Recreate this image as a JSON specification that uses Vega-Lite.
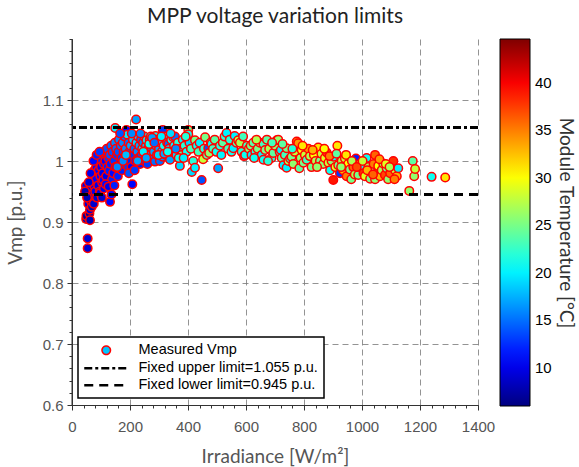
{
  "$schema": "https://vega.github.io/schema/vega-lite/v6.json",
  "width": 406,
  "height": 366,
  "autosize": "none",
  "padding": {"left": 72, "top": 39, "right": 101, "bottom": 62},
  "background": "white",
  "title": {"text": "MPP voltage variation limits", "font": "Lato", "fontSize": 21, "fontWeight": "normal", "color": "#222", "anchor": "middle", "offset": 12},
  "config": {"view": {"stroke": null}},
  "resolve": {"axis": {"x": "independent", "y": "independent"}},
  "layer": [
    {
      "data": {"values": [
        {"irr":48,"vmp":0.959,"T":10},{"irr":49,"vmp":0.905,"T":8},{"irr":50,"vmp":0.91,"T":7},{"irr":54,"vmp":0.873,"T":9},{"irr":54,"vmp":0.857,"T":9},
        {"irr":56,"vmp":0.93,"T":9},{"irr":58,"vmp":0.946,"T":10},{"irr":60,"vmp":0.914,"T":7},{"irr":62,"vmp":0.903,"T":8},{"irr":62,"vmp":0.92,"T":9},
        {"irr":65,"vmp":0.935,"T":9},{"irr":66,"vmp":0.958,"T":10},{"irr":68,"vmp":0.925,"T":8},{"irr":70,"vmp":0.945,"T":10},{"irr":72,"vmp":0.974,"T":11},
        {"irr":75,"vmp":0.93,"T":9},{"irr":76,"vmp":0.96,"T":10},{"irr":78,"vmp":0.985,"T":11},{"irr":80,"vmp":0.95,"T":10},{"irr":82,"vmp":0.97,"T":11},
        {"irr":84,"vmp":0.99,"T":11},{"irr":86,"vmp":0.94,"T":9},{"irr":88,"vmp":1.0,"T":12},{"irr":90,"vmp":0.96,"T":10},{"irr":92,"vmp":0.985,"T":11},
        {"irr":94,"vmp":1.005,"T":12},{"irr":96,"vmp":0.95,"T":10},{"irr":98,"vmp":0.975,"T":11},{"irr":100,"vmp":1.002,"T":12},{"irr":100,"vmp":0.99,"T":10},
        {"irr":102,"vmp":1.012,"T":13},{"irr":104,"vmp":0.965,"T":11},{"irr":106,"vmp":0.98,"T":10},{"irr":108,"vmp":0.969,"T":11},{"irr":110,"vmp":0.995,"T":12},
        {"irr":112,"vmp":1.015,"T":13},{"irr":115,"vmp":1.0,"T":11},{"irr":118,"vmp":0.975,"T":10},{"irr":120,"vmp":1.02,"T":14},{"irr":122,"vmp":0.99,"T":12},
        {"irr":125,"vmp":1.005,"T":13},{"irr":128,"vmp":0.984,"T":12},{"irr":130,"vmp":1.01,"T":14},{"irr":131,"vmp":0.933,"T":11},{"irr":133,"vmp":0.995,"T":12},
        {"irr":135,"vmp":1.025,"T":15},{"irr":138,"vmp":0.97,"T":12},{"irr":140,"vmp":1.015,"T":14},{"irr":142,"vmp":0.98,"T":11},{"irr":145,"vmp":1.0,"T":13},
        {"irr":148,"vmp":1.03,"T":16},{"irr":149,"vmp":1.054,"T":20},{"irr":150,"vmp":0.99,"T":12},{"irr":152,"vmp":1.02,"T":15},{"irr":155,"vmp":1.01,"T":13},
        {"irr":158,"vmp":0.975,"T":12},{"irr":160,"vmp":1.015,"T":14},{"irr":162,"vmp":1.035,"T":16},{"irr":165,"vmp":0.995,"T":12},{"irr":168,"vmp":1.025,"T":15},
        {"irr":170,"vmp":1.005,"T":13},{"irr":172,"vmp":0.985,"T":12},{"irr":175,"vmp":1.03,"T":16},{"irr":178,"vmp":1.015,"T":14},{"irr":180,"vmp":0.995,"T":13},
        {"irr":182,"vmp":1.04,"T":15},{"irr":185,"vmp":1.02,"T":16},{"irr":188,"vmp":1.051,"T":11},{"irr":190,"vmp":1.005,"T":12},{"irr":191,"vmp":1.043,"T":20},
        {"irr":193,"vmp":0.99,"T":13},{"irr":195,"vmp":1.03,"T":15},{"irr":198,"vmp":1.015,"T":14},{"irr":200,"vmp":1.0,"T":12},{"irr":202,"vmp":1.025,"T":17},
        {"irr":205,"vmp":0.99,"T":11},{"irr":208,"vmp":0.962,"T":11},{"irr":210,"vmp":1.035,"T":18},{"irr":212,"vmp":1.01,"T":13},{"irr":215,"vmp":1.02,"T":15},
        {"irr":218,"vmp":1.0,"T":12},{"irr":221,"vmp":1.068,"T":17},{"irr":222,"vmp":1.03,"T":19},{"irr":225,"vmp":1.015,"T":16},{"irr":228,"vmp":1.04,"T":18},
        {"irr":230,"vmp":1.005,"T":13},{"irr":232,"vmp":1.025,"T":17},{"irr":235,"vmp":0.995,"T":12},{"irr":238,"vmp":1.035,"T":15},{"irr":240,"vmp":1.01,"T":14},
        {"irr":242,"vmp":1.02,"T":19},{"irr":245,"vmp":1.03,"T":16},{"irr":248,"vmp":1.0,"T":13},{"irr":250,"vmp":1.04,"T":20},{"irr":252,"vmp":1.015,"T":15},
        {"irr":255,"vmp":1.025,"T":18},{"irr":257,"vmp":1.034,"T":20},{"irr":260,"vmp":0.995,"T":13},{"irr":262,"vmp":1.02,"T":17},{"irr":265,"vmp":1.01,"T":16},
        {"irr":268,"vmp":1.035,"T":18},{"irr":270,"vmp":1.025,"T":14},{"irr":272,"vmp":1.04,"T":22},{"irr":275,"vmp":1.021,"T":16},{"irr":278,"vmp":1.03,"T":19},
        {"irr":280,"vmp":1.005,"T":15},{"irr":282,"vmp":1.015,"T":17},{"irr":286,"vmp":0.999,"T":15},{"irr":288,"vmp":1.041,"T":21},{"irr":290,"vmp":1.025,"T":18},
        {"irr":293,"vmp":1.01,"T":16},{"irr":296,"vmp":1.035,"T":20},{"irr":300,"vmp":1.02,"T":17},{"irr":303,"vmp":1.0,"T":15},{"irr":306,"vmp":1.03,"T":19},
        {"irr":310,"vmp":1.015,"T":18},{"irr":313,"vmp":1.007,"T":16},{"irr":313,"vmp":1.051,"T":13},{"irr":316,"vmp":1.025,"T":21},{"irr":320,"vmp":1.04,"T":20},
        {"irr":324,"vmp":1.01,"T":15},{"irr":328,"vmp":1.03,"T":18},{"irr":332,"vmp":1.028,"T":15},{"irr":335,"vmp":1.02,"T":19},{"irr":338,"vmp":1.002,"T":17},
        {"irr":342,"vmp":1.035,"T":21},{"irr":345,"vmp":1.015,"T":18},{"irr":349,"vmp":1.039,"T":19},{"irr":352,"vmp":1.025,"T":20},{"irr":355,"vmp":1.04,"T":15},
        {"irr":360,"vmp":1.01,"T":19},{"irr":365,"vmp":1.03,"T":22},{"irr":372,"vmp":0.992,"T":19},{"irr":375,"vmp":1.02,"T":21},{"irr":378,"vmp":1.01,"T":24},
        {"irr":382,"vmp":1.035,"T":20},{"irr":388,"vmp":1.025,"T":22},{"irr":395,"vmp":1.015,"T":21},{"irr":401,"vmp":1.051,"T":25},{"irr":401,"vmp":1.044,"T":21},
        {"irr":405,"vmp":1.03,"T":19},{"irr":410,"vmp":1.02,"T":23},{"irr":413,"vmp":0.982,"T":19},{"irr":418,"vmp":1.0,"T":22},{"irr":424,"vmp":0.989,"T":20},
        {"irr":424,"vmp":1.034,"T":25},{"irr":430,"vmp":1.025,"T":21},{"irr":436,"vmp":1.015,"T":23},{"irr":440,"vmp":1.03,"T":20},{"irr":447,"vmp":0.969,"T":14},
        {"irr":452,"vmp":1.003,"T":28},{"irr":455,"vmp":1.02,"T":22},{"irr":459,"vmp":1.039,"T":25},{"irr":465,"vmp":1.01,"T":24},{"irr":470,"vmp":1.021,"T":14},
        {"irr":473,"vmp":1.013,"T":26},{"irr":478,"vmp":1.03,"T":22},{"irr":481,"vmp":1.028,"T":21},{"irr":486,"vmp":1.02,"T":23},{"irr":492,"vmp":1.035,"T":24},
        {"irr":498,"vmp":1.015,"T":21},{"irr":504,"vmp":0.988,"T":17},{"irr":510,"vmp":1.025,"T":22},{"irr":515,"vmp":1.01,"T":20},{"irr":520,"vmp":1.03,"T":24},
        {"irr":526,"vmp":1.04,"T":22},{"irr":533,"vmp":1.046,"T":20},{"irr":538,"vmp":1.02,"T":23},{"irr":544,"vmp":1.035,"T":22},{"irr":550,"vmp":1.015,"T":21},
        {"irr":556,"vmp":1.021,"T":20},{"irr":561,"vmp":1.041,"T":20},{"irr":567,"vmp":1.03,"T":24},{"irr":573,"vmp":1.034,"T":28},{"irr":579,"vmp":1.03,"T":27},
        {"irr":585,"vmp":1.015,"T":22},{"irr":593,"vmp":1.008,"T":20},{"irr":597,"vmp":1.01,"T":21},{"irr":603,"vmp":1.025,"T":23},{"irr":610,"vmp":1.02,"T":26},
        {"irr":616,"vmp":1.025,"T":25},{"irr":619,"vmp":1.01,"T":20},{"irr":625,"vmp":1.03,"T":24},{"irr":632,"vmp":1.015,"T":22},{"irr":640,"vmp":1.02,"T":25},
        {"irr":648,"vmp":1.03,"T":26},{"irr":654,"vmp":1.01,"T":20},{"irr":660,"vmp":1.028,"T":23},{"irr":660,"vmp":1.002,"T":21},{"irr":666,"vmp":1.018,"T":25},
        {"irr":672,"vmp":1.035,"T":24},{"irr":680,"vmp":1.02,"T":27},{"irr":688,"vmp":1.005,"T":22},{"irr":694,"vmp":1.013,"T":24},{"irr":700,"vmp":1.025,"T":26},
        {"irr":706,"vmp":1.034,"T":25},{"irr":711,"vmp":1.035,"T":26},{"irr":716,"vmp":1.015,"T":22},{"irr":720,"vmp":1.018,"T":20},{"irr":723,"vmp":1.005,"T":24},
        {"irr":729,"vmp":0.993,"T":20},{"irr":734,"vmp":1.01,"T":23},{"irr":740,"vmp":0.989,"T":20},{"irr":740,"vmp":1.021,"T":25},{"irr":746,"vmp":1.0,"T":27},
        {"irr":752,"vmp":1.004,"T":22},{"irr":757,"vmp":1.007,"T":25},{"irr":763,"vmp":0.995,"T":26},{"irr":768,"vmp":1.015,"T":28},{"irr":775,"vmp":1.032,"T":35},
        {"irr":780,"vmp":1.029,"T":34},{"irr":784,"vmp":0.988,"T":24},{"irr":788,"vmp":1.005,"T":26},{"irr":792,"vmp":1.018,"T":30},{"irr":798,"vmp":0.997,"T":25},
        {"irr":803,"vmp":1.01,"T":28},{"irr":809,"vmp":1.002,"T":23},{"irr":815,"vmp":1.02,"T":34},{"irr":820,"vmp":1.008,"T":27},{"irr":826,"vmp":0.99,"T":25},
        {"irr":834,"vmp":1.01,"T":30},{"irr":840,"vmp":1.0,"T":27},{"irr":849,"vmp":1.022,"T":31},{"irr":855,"vmp":1.0,"T":25},{"irr":860,"vmp":1.012,"T":28},
        {"irr":866,"vmp":0.995,"T":26},{"irr":872,"vmp":1.005,"T":29},{"irr":878,"vmp":1.014,"T":37},{"irr":884,"vmp":0.997,"T":28},{"irr":890,"vmp":0.985,"T":21},
        {"irr":895,"vmp":1.0,"T":26},{"irr":901,"vmp":0.969,"T":39},{"irr":902,"vmp":1.007,"T":21},{"irr":908,"vmp":0.99,"T":29},{"irr":915,"vmp":1.025,"T":31},
        {"irr":918,"vmp":0.993,"T":25},{"irr":924,"vmp":0.98,"T":13},{"irr":930,"vmp":1.0,"T":27},{"irr":935,"vmp":0.985,"T":33},{"irr":941,"vmp":1.004,"T":28},
        {"irr":947,"vmp":0.975,"T":35},{"irr":952,"vmp":0.995,"T":30},{"irr":958,"vmp":0.986,"T":25},{"irr":963,"vmp":0.97,"T":25},{"irr":970,"vmp":0.99,"T":36},
        {"irr":975,"vmp":0.978,"T":27},{"irr":979,"vmp":1.004,"T":12},{"irr":987,"vmp":0.977,"T":25},{"irr":993,"vmp":0.995,"T":34},{"irr":999,"vmp":0.992,"T":21},
        {"irr":1005,"vmp":0.98,"T":38},{"irr":1010,"vmp":0.975,"T":29},{"irr":1016,"vmp":1.005,"T":21},{"irr":1022,"vmp":0.99,"T":27},{"irr":1028,"vmp":0.971,"T":25},
        {"irr":1034,"vmp":0.985,"T":26},{"irr":1040,"vmp":0.995,"T":35},{"irr":1045,"vmp":1.01,"T":36},{"irr":1045,"vmp":0.97,"T":26},{"irr":1050,"vmp":0.98,"T":38},
        {"irr":1056,"vmp":0.992,"T":30},{"irr":1062,"vmp":0.975,"T":33},{"irr":1068,"vmp":0.985,"T":27},{"irr":1073,"vmp":0.996,"T":26},{"irr":1079,"vmp":0.977,"T":37},
        {"irr":1085,"vmp":0.988,"T":25},{"irr":1090,"vmp":0.97,"T":26},{"irr":1097,"vmp":0.98,"T":36},{"irr":1102,"vmp":0.992,"T":38},{"irr":1108,"vmp":1.0,"T":38},
        {"irr":1114,"vmp":0.985,"T":28},{"irr":1120,"vmp":0.975,"T":33},{"irr":1125,"vmp":0.988,"T":20},{"irr":1163,"vmp":0.951,"T":26},{"irr":1175,"vmp":1.0,"T":24},
        {"irr":1180,"vmp":0.975,"T":26},{"irr":1183,"vmp":0.987,"T":28},{"irr":1240,"vmp":0.974,"T":21},{"irr":1287,"vmp":0.973,"T":31},
        {"irr":590,"vmp":1.04,"T":23},{"irr":628,"vmp":1.005,"T":21},{"irr":636,"vmp":1.035,"T":27},{"irr":676,"vmp":1.0,"T":22},{"irr":690,"vmp":1.03,"T":23},
        {"irr":726,"vmp":1.028,"T":24},{"irr":760,"vmp":1.02,"T":22},{"irr":795,"vmp":1.025,"T":31},{"irr":830,"vmp":1.018,"T":33},{"irr":845,"vmp":0.99,"T":26},
        {"irr":870,"vmp":1.02,"T":30},{"irr":888,"vmp":1.008,"T":35},{"irr":912,"vmp":1.012,"T":24},{"irr":928,"vmp":0.99,"T":26},{"irr":945,"vmp":1.01,"T":31},
        {"irr":965,"vmp":1.0,"T":27},{"irr":982,"vmp":0.99,"T":37},{"irr":1002,"vmp":1.0,"T":28},{"irr":1018,"vmp":0.985,"T":33},{"irr":1038,"vmp":0.978,"T":36},
        {"irr":1060,"vmp":1.003,"T":34},{"irr":1082,"vmp":0.995,"T":29},{"irr":1095,"vmp":0.99,"T":27},{"irr":1112,"vmp":0.97,"T":35},
        {"irr":156,"vmp":0.99,"T":16},{"irr":166,"vmp":1.045,"T":14},{"irr":176,"vmp":1.0,"T":16},{"irr":186,"vmp":1.01,"T":18},{"irr":196,"vmp":0.98,"T":14},
        {"irr":206,"vmp":1.045,"T":16},{"irr":216,"vmp":0.985,"T":13},{"irr":226,"vmp":1.0,"T":17},{"irr":236,"vmp":1.045,"T":16},{"irr":246,"vmp":1.015,"T":20},
        {"irr":256,"vmp":1.005,"T":17},{"irr":266,"vmp":1.028,"T":21},{"irr":276,"vmp":1.038,"T":17},{"irr":284,"vmp":1.03,"T":15},{"irr":298,"vmp":1.01,"T":19},
        {"irr":308,"vmp":1.04,"T":20},{"irr":318,"vmp":1.012,"T":17},{"irr":330,"vmp":1.015,"T":21},{"irr":340,"vmp":1.045,"T":19},{"irr":358,"vmp":1.02,"T":16},
        {"irr":368,"vmp":1.005,"T":21},{"irr":385,"vmp":1.005,"T":20},{"irr":392,"vmp":1.04,"T":22},
        {"irr":97,"vmp":0.947,"T":10},{"irr":103,"vmp":0.94,"T":9},{"irr":110,"vmp":0.955,"T":10},{"irr":116,"vmp":0.962,"T":11},{"irr":126,"vmp":0.958,"T":10},
        {"irr":136,"vmp":0.945,"T":11},{"irr":146,"vmp":0.96,"T":12},{"irr":45,"vmp":0.95,"T":8},{"irr":52,"vmp":0.94,"T":8},{"irr":58,"vmp":0.965,"T":9},
        {"irr":64,"vmp":0.98,"T":10},{"irr":74,"vmp":1.0,"T":11},{"irr":85,"vmp":1.01,"T":12},{"irr":95,"vmp":1.015,"T":13}
      ]},
      "mark": {"type": "circle", "size": 72, "opacity": 1, "stroke": "#ff0000", "strokeWidth": 1.5},
      "encoding": {
        "x": {"field": "irr", "type": "quantitative", "scale": {"domain": [0, 1400], "nice": false, "zero": false},
          "axis": {"values": [0,200,400,600,800,1000,1200,1400], "format": "d", "title": "Irradiance [W/m²]", "grid": true, "gridDash": [6,4], "gridColor": "#777", "gridWidth": 0.8,
            "domainColor": "#333", "tickColor": "#333", "tickSize": 5, "labelFont": "Liberation Sans", "labelFontSize": 15, "labelColor": "#555", "labelPadding": 9,
            "labelFlush": false, "titleFont": "Lato", "titleFontSize": 19, "titleFontWeight": "normal", "titleColor": "#555", "titlePadding": 13, "orient": "bottom"}},
        "y": {"field": "vmp", "type": "quantitative", "scale": {"domain": [0.6, 1.2], "nice": false, "zero": false},
          "axis": {"values": [0.6,0.7,0.8,0.9,1,1.1], "format": "~g", "title": "Vmp [p.u.]", "grid": true, "gridDash": [6,4], "gridColor": "#777", "gridWidth": 0.8,
            "domainColor": "#333", "tickColor": "#333", "tickSize": 5, "labelFont": "Liberation Sans", "labelFontSize": 15, "labelColor": "#555", "labelPadding": 4,
            "titleFont": "Lato", "titleFontSize": 19, "titleFontWeight": "normal", "titleColor": "#555", "titlePadding": 17, "orient": "left"}},
        "color": {"field": "T", "type": "quantitative",
          "scale": {"domain": [6, 10.825, 20.475, 30.125, 39.775, 44.6], "range": ["#00007f", "#0000ff", "#00ffff", "#ffff00", "#ff0000", "#7f0000"], "interpolate": "rgb"},
          "legend": {"title": "Module Temperature [°C]", "orient": "right", "offset": 22, "direction": "vertical", "gradientLength": 367, "gradientThickness": 30,
            "gradientStrokeColor": "#000", "gradientStrokeWidth": 1, "values": [10,15,20,25,30,35,40], "labelFont": "Liberation Sans", "labelFontSize": 15,
            "labelColor": "#000", "labelOffset": 5, "titleOrient": "right", "titleAngle": 270, "titleFont": "Lato", "titleFontSize": 19, "titleFontWeight": "normal",
            "titleColor": "#333", "titlePadding": 4, "titleAnchor": "middle", "titleLimit": 500, "padding": 0}}
      }
    },
    {
      "data": {"values": [
        {"series": "Fixed upper limit=1.055 p.u.", "v": 1.055},
        {"series": "Fixed lower limit=0.945 p.u.", "v": 0.945}
      ]},
      "mark": {"type": "rule", "color": "#000", "strokeWidth": 3},
      "encoding": {
        "y": {"field": "v", "type": "quantitative",
          "axis": {"orient": "left", "values": [0.6,0.62,0.64,0.66,0.68,0.7,0.72,0.74,0.76,0.78,0.8,0.82,0.84,0.86,0.88,0.9,0.92,0.94,0.96,0.98,1,1.02,1.04,1.06,1.08,1.1,1.12,1.14,1.16,1.18,1.2],
            "labels": false, "domain": false, "grid": false, "title": null, "tickSize": 3, "tickColor": "#333"}},
        "strokeDash": {"field": "series", "type": "nominal",
          "scale": {"domain": ["Measured Vmp", "Fixed upper limit=1.055 p.u.", "Fixed lower limit=0.945 p.u."], "range": [[1,0],[8,3,3,3],[9,6]]},
          "legend": {"title": null, "orient": "none", "legendX": 6, "legendY": 298, "symbolType": "stroke", "symbolSize": 1936, "symbolStrokeWidth": 2.5,
            "symbolStrokeColor": "#000", "symbolOffset": 15, "labelFont": "Liberation Sans", "labelFontSize": 14.5, "labelColor": "#000", "labelOffset": 25,
            "labelLimit": 400, "rowPadding": 2, "padding": 6, "strokeColor": "#000", "fillColor": "#fff",
            "encode": {
              "legend": {"update": {"strokeWidth": {"value": 1.5}}},
              "symbols": {"update": {
                "shape": {"signal": "datum.value === 'Measured Vmp' ? 'circle' : 'stroke'"},
                "size": {"signal": "datum.value === 'Measured Vmp' ? 72 : 1936"},
                "fill": {"signal": "datum.value === 'Measured Vmp' ? '#00c4ff' : 'transparent'"},
                "stroke": {"signal": "datum.value === 'Measured Vmp' ? '#ff0000' : '#000000'"},
                "strokeWidth": {"signal": "datum.value === 'Measured Vmp' ? 1.5 : 2.5"}
              }}
            }}}
      }
    },
    {
      "data": {"values": [{"irr": 0}]},
      "mark": {"type": "rule", "color": "#333", "strokeWidth": 1},
      "encoding": {
        "x": {"field": "irr", "type": "quantitative",
          "axis": {"orient": "bottom", "values": [0,40,80,120,160,200,240,280,320,360,400,440,480,520,560,600,640,680,720,760,800,840,880,920,960,1000,1040,1080,1120,1160,1200,1240,1280,1320,1360,1400],
            "labels": false, "domain": false, "grid": false, "title": null, "tickSize": 3, "tickColor": "#333"}}
      }
    }
  ]
}
